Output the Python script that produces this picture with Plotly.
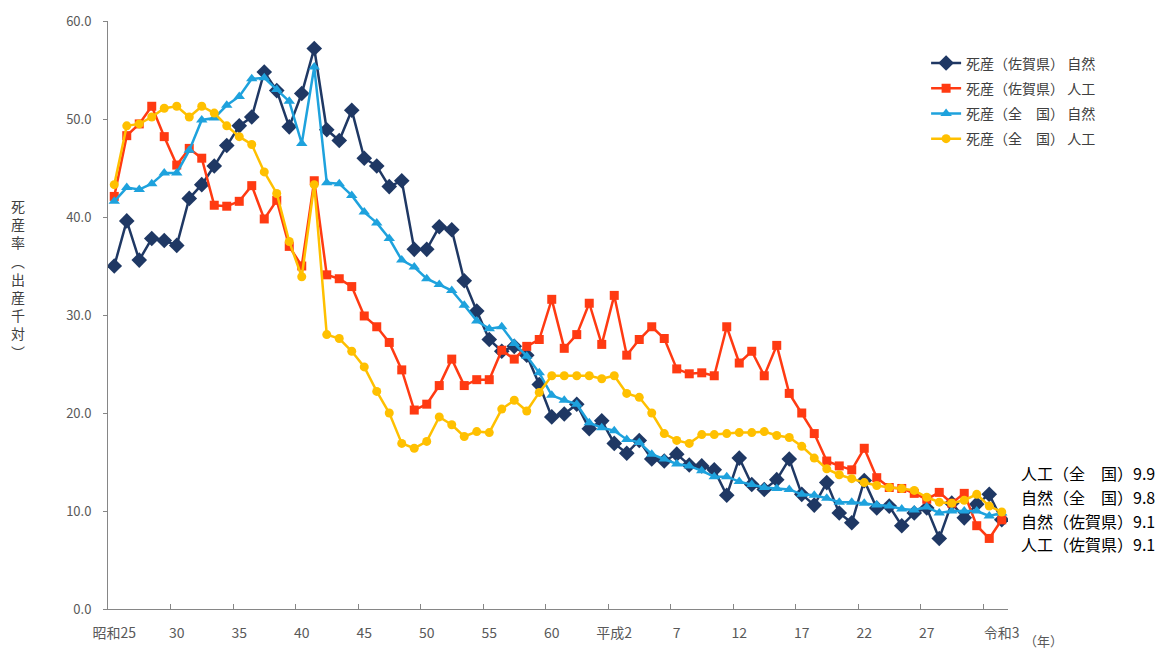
import plotly.graph_objects as go

# 年 (1950 = 昭和25 ... 2021 = 令和3)
years = list(range(1950, 2022))

# 死産(佐賀県) 自然
saga_natural = [35.0, 39.6, 35.6, 37.8, 37.6, 37.1, 41.9, 43.3, 45.2, 47.3,
                49.3, 50.2, 54.8, 52.9, 49.2, 52.6, 57.2, 48.9, 47.8, 50.9,
                46.0, 45.2, 43.1, 43.7, 36.7, 36.7, 39.0, 38.7, 33.5, 30.4,
                27.5, 26.3, 26.8, 25.9, 22.9, 19.6, 19.9, 20.9, 18.4, 19.2,
                16.9, 15.9, 17.2, 15.3, 15.1, 15.8, 14.7, 14.6, 14.2, 11.6,
                15.4, 12.7, 12.2, 13.2, 15.3, 11.7, 10.6, 12.9, 9.8, 8.8,
                13.1, 10.3, 10.5, 8.5, 9.8, 10.3, 7.2, 10.8, 9.3, 10.7,
                11.7, 9.1]

# 死産(佐賀県) 人工
saga_artificial = [42.1, 48.3, 49.5, 51.3, 48.2, 45.3, 47.0, 46.0, 41.2, 41.1,
                   41.6, 43.2, 39.8, 41.7, 37.0, 35.0, 43.7, 34.1, 33.7, 32.9,
                   29.9, 28.8, 27.2, 24.4, 20.3, 20.9, 22.8, 25.5, 22.8, 23.4,
                   23.4, 26.4, 25.5, 26.8, 27.5, 31.6, 26.6, 28.0, 31.2, 27.0,
                   32.0, 25.9, 27.5, 28.8, 27.6, 24.5, 24.0, 24.1, 23.8, 28.8,
                   25.1, 26.3, 23.8, 26.9, 22.0, 20.0, 17.9, 15.1, 14.6, 14.2,
                   16.4, 13.4, 12.4, 12.3, 11.8, 11.2, 11.9, 10.8, 11.8, 8.5,
                   7.2, 9.1]

# 死産(全 国) 自然
nat_natural = [41.6, 43.0, 42.8, 43.4, 44.5, 44.5, 46.8, 49.9, 50.1, 51.4,
               52.3, 54.1, 54.2, 53.0, 51.8, 47.5, 55.3, 43.5, 43.4, 42.2,
               40.5, 39.4, 37.8, 35.6, 34.9, 33.7, 33.1, 32.5, 31.0, 29.4,
               28.6, 28.8, 27.1, 25.8, 24.1, 21.8, 21.3, 20.9, 19.0, 18.5,
               18.2, 17.3, 17.0, 15.8, 15.3, 14.8, 14.6, 14.1, 13.5, 13.5,
               13.0, 12.7, 12.4, 12.3, 12.2, 11.7, 11.6, 11.3, 10.9, 10.9,
               10.8, 10.6, 10.5, 10.2, 10.1, 10.4, 9.8, 10.0, 10.0, 10.0,
               9.5, 9.8]

# 死産(全 国) 人工
nat_artificial = [43.3, 49.3, 49.5, 50.2, 51.1, 51.3, 50.2, 51.3, 50.6, 49.3,
                  48.2, 47.4, 44.6, 42.4, 37.5, 33.9, 43.3, 28.0, 27.6, 26.3,
                  24.7, 22.2, 20.0, 16.9, 16.4, 17.1, 19.6, 18.8, 17.6, 18.1,
                  18.0, 20.4, 21.3, 20.2, 22.1, 23.8, 23.8, 23.8, 23.8, 23.5,
                  23.8, 22.0, 21.6, 20.0, 17.9, 17.2, 16.9, 17.8, 17.8, 17.9,
                  18.0, 18.0, 18.1, 17.7, 17.5, 16.6, 15.4, 14.3, 13.7, 13.3,
                  12.9, 12.6, 12.4, 12.3, 12.1, 11.4, 10.9, 10.8, 11.1, 11.7,
                  10.5, 9.9]

tick_years = [1950, 1955, 1960, 1965, 1970, 1975, 1980, 1985, 1990, 1995,
              2000, 2005, 2010, 2015, 2021]
tick_text = ["昭和25", "30", "35", "40", "45", "50", "55", "60", "平成2", "7",
             "12", "17", "22", "27", "令和3"]

end_labels = ["人工（全　国）9.9", "自然（全　国）9.8", "自然（佐賀県）9.1", "人工（佐賀県）9.1"]

FONT = "Noto Sans CJK JP, Noto Sans, sans-serif"

series = [
    ("死産（佐賀県） 自然", saga_natural, "#1F3864", "diamond", 12),
    ("死産（佐賀県） 人工", saga_artificial, "#FF3A12", "square", 9),
    ("死産（全　国） 自然", nat_natural, "#1EA2DD", "triangle-up", 10),
    ("死産（全　国） 人工", nat_artificial, "#FFC000", "circle", 9),
]

fig = go.Figure()
for k, (name, vals, col, sym, sz) in enumerate(series):
    fig.add_trace(go.Scatter(
        x=years, y=vals, name=name, mode="lines+markers",
        line=dict(color=col, width=2.5),
        marker=dict(symbol=sym, size=sz, color=col, line=dict(width=0)),
        legendgroup=f"g{k}",
    ))

fig.update_layout(
    width=1160, height=651,
    margin=dict(l=108, r=152, t=21, b=42, autoexpand=False),
    paper_bgcolor="white", plot_bgcolor="white",
    font=dict(family=FONT, size=13, color="#404040"),
    showlegend=True,
    legend=dict(x=0.909, y=0.955, xanchor="left", yanchor="top",
                bgcolor="rgba(255,255,255,0)", font=dict(size=14, color="#404040"),
                traceorder="grouped", tracegroupgap=4, itemwidth=30),
    xaxis=dict(
        range=[1949.5, 2021.5], showgrid=False, zeroline=False, automargin=False,
        showline=True, linecolor="#868686", linewidth=1,
        tickmode="array", tickvals=tick_years, ticktext=tick_text,
        ticks="", ticklabelstandoff=11,
        tickfont=dict(size=14, color="#595959"),
        minor=dict(tickmode="array",
                   tickvals=[y + 4.5 for y in tick_years[:-1]],
                   ticks="inside", ticklen=5, tickcolor="#868686", tickwidth=1,
                   showgrid=False),
    ),
    yaxis=dict(
        range=[0, 60], showgrid=False, zeroline=False, automargin=False,
        showline=True, linecolor="#868686", linewidth=1,
        tickmode="linear", tick0=0, dtick=10, tickformat=".1f",
        ticks="outside", ticklen=4, tickcolor="#868686",
        ticklabelstandoff=9,
        tickfont=dict(size=13, color="#595959"),
    ),
)

# y-axis title (vertical, upright characters)
fig.add_annotation(
    text="<br>".join(list("死産率︵出産千対︶")),
    xref="paper", yref="paper", x=-0.1, y=0.562,
    xanchor="center", yanchor="middle", showarrow=False,
    font=dict(size=14, color="#404040", family=FONT),
)

# (年)
fig.add_annotation(
    text="（年）", xref="paper", yref="paper", x=1.039, y=-0.053,
    xanchor="center", yanchor="middle", showarrow=False,
    font=dict(size=13, color="#595959", family=FONT),
)

# end-value labels
label_y = [0.231, 0.190, 0.149, 0.110]
for txt, yy in zip(end_labels, label_y):
    fig.add_annotation(
        text=txt, xref="paper", yref="paper", x=1.0122, y=yy,
        xanchor="left", yanchor="middle", showarrow=False,
        font=dict(size=16, color="#000000", family=FONT),
    )

fig.write_html("out.html", config={"displayModeBar": False},
               post_script="document.body.style.margin='0';")
